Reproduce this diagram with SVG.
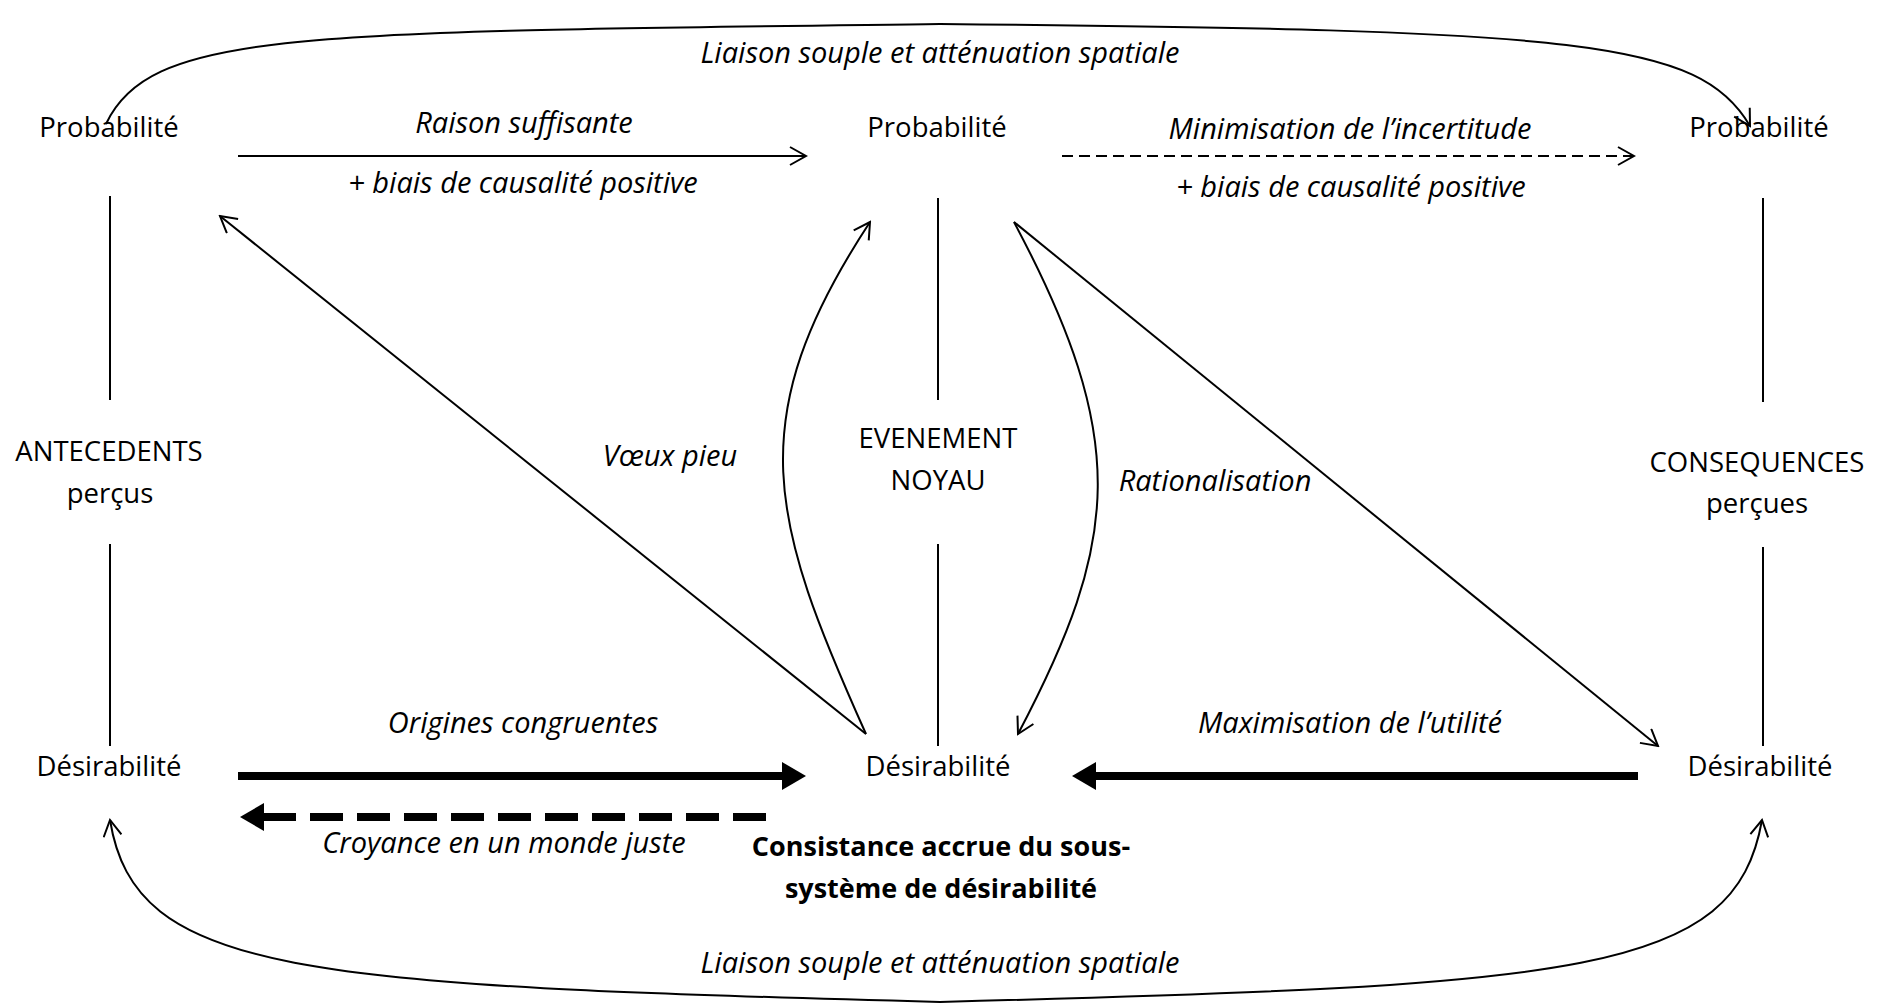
<svg xmlns="http://www.w3.org/2000/svg" width="1881" height="1005" viewBox="0 0 1881 1005">
<style>
text{font-family:"Open Sans","Liberation Sans",sans-serif;font-size:27.5px;fill:#000;text-anchor:middle}
.i{font-style:italic;font-size:29px}
.b{font-weight:bold;font-size:27px}
.ln{stroke:#000;stroke-width:2;fill:none}
.thin{stroke:#000;stroke-width:2;fill:none}
.thick{stroke:#000;stroke-width:8;fill:none}
</style>
<defs>
<marker id="open" viewBox="0 0 20 20" refX="18" refY="10" markerWidth="20" markerHeight="20" markerUnits="userSpaceOnUse" orient="auto">
<path d="M2,1 L18,10 L2,19" fill="none" stroke="#000" stroke-width="2"/>
</marker>
<marker id="openS" viewBox="0 0 20 20" refX="18" refY="10" markerWidth="20" markerHeight="20" markerUnits="userSpaceOnUse" orient="auto-start-reverse">
<path d="M2,1 L18,10 L2,19" fill="none" stroke="#000" stroke-width="2"/>
</marker>
<marker id="solid" viewBox="0 0 24 28" refX="3" refY="14" markerWidth="24" markerHeight="28" markerUnits="userSpaceOnUse" orient="auto">
<path d="M0,0 L24,14 L0,28 Z" fill="#000"/>
</marker>
</defs>
<g id="connectors">
<path class="thin" d="M106,124 C150,30 300,32 940,24 C1580,30 1700,40 1750,126" marker-end="url(#open)"/>
<path class="thin" d="M110,820 C135,975 300,985 940,1002 C1580,985 1735,975 1762,820" marker-start="url(#openS)" marker-end="url(#open)"/>
<line class="thin" x1="238" y1="156" x2="806" y2="156" marker-end="url(#open)"/>
<line class="thin" x1="1062" y1="156" x2="1634" y2="156" stroke-dasharray="11 6" marker-end="url(#open)"/>
<line class="ln" x1="110" y1="196" x2="110" y2="400"/>
<line class="ln" x1="110" y1="544" x2="110" y2="746"/>
<line class="ln" x1="938" y1="198" x2="938" y2="400"/>
<line class="ln" x1="938" y1="544" x2="938" y2="746"/>
<line class="ln" x1="1763" y1="198" x2="1763" y2="402"/>
<line class="ln" x1="1763" y1="547" x2="1763" y2="746"/>
<line class="thin" x1="866" y1="734" x2="220" y2="216" marker-end="url(#open)"/>
<path class="thin" d="M866,734 C770,520 740,420 870,222" marker-end="url(#open)"/>
<path class="thin" d="M1014,222 C1130,440 1120,540 1018,734" marker-end="url(#open)"/>
<line class="thin" x1="1014" y1="222" x2="1658" y2="746" marker-end="url(#open)"/>
<line class="thick" x1="238" y1="776" x2="785" y2="776" marker-end="url(#solid)"/>
<line class="thick" x1="1638" y1="776" x2="1093" y2="776" marker-end="url(#solid)"/>
<line class="thick" x1="766" y1="817" x2="261" y2="817" stroke-dasharray="33 14" marker-end="url(#solid)"/>
</g>
<g id="prob-antecedents"><text x="109" y="137">Probabilité</text></g>
<g id="prob-evenement"><text x="937" y="137">Probabilité</text></g>
<g id="prob-consequences"><text x="1759" y="137">Probabilité</text></g>
<g id="antecedents"><text x="109" y="461">ANTECEDENTS</text><text x="110" y="503">perçus</text></g>
<g id="evenement"><text x="938" y="448">EVENEMENT</text><text x="938" y="490">NOYAU</text></g>
<g id="consequences"><text x="1757" y="472">CONSEQUENCES</text><text x="1757" y="513">perçues</text></g>
<g id="des-antecedents"><text x="109" y="776">Désirabilité</text></g>
<g id="des-evenement"><text x="938" y="776">Désirabilité</text></g>
<g id="des-consequences"><text x="1760" y="776">Désirabilité</text></g>
<g id="labels">
<text class="i" x="940" y="63">Liaison souple et atténuation spatiale</text>
<text class="i" x="524" y="133">Raison suffisante</text>
<text class="i" x="523" y="193">+ biais de causalité positive</text>
<text class="i" x="1350" y="139">Minimisation de l’incertitude</text>
<text class="i" x="1351" y="197">+ biais de causalité positive</text>
<text class="i" x="670" y="466">Vœux pieu</text>
<text class="i" x="1215" y="491">Rationalisation</text>
<text class="i" x="523" y="733">Origines congruentes</text>
<text class="i" x="1350" y="733">Maximisation de l’utilité</text>
<text class="i" x="504" y="853">Croyance en un monde juste</text>
<text class="b" x="941" y="856">Consistance accrue du sous-</text>
<text class="b" x="941" y="898">système de désirabilité</text>
<text class="i" x="940" y="973">Liaison souple et atténuation spatiale</text>
</g>
</svg>
